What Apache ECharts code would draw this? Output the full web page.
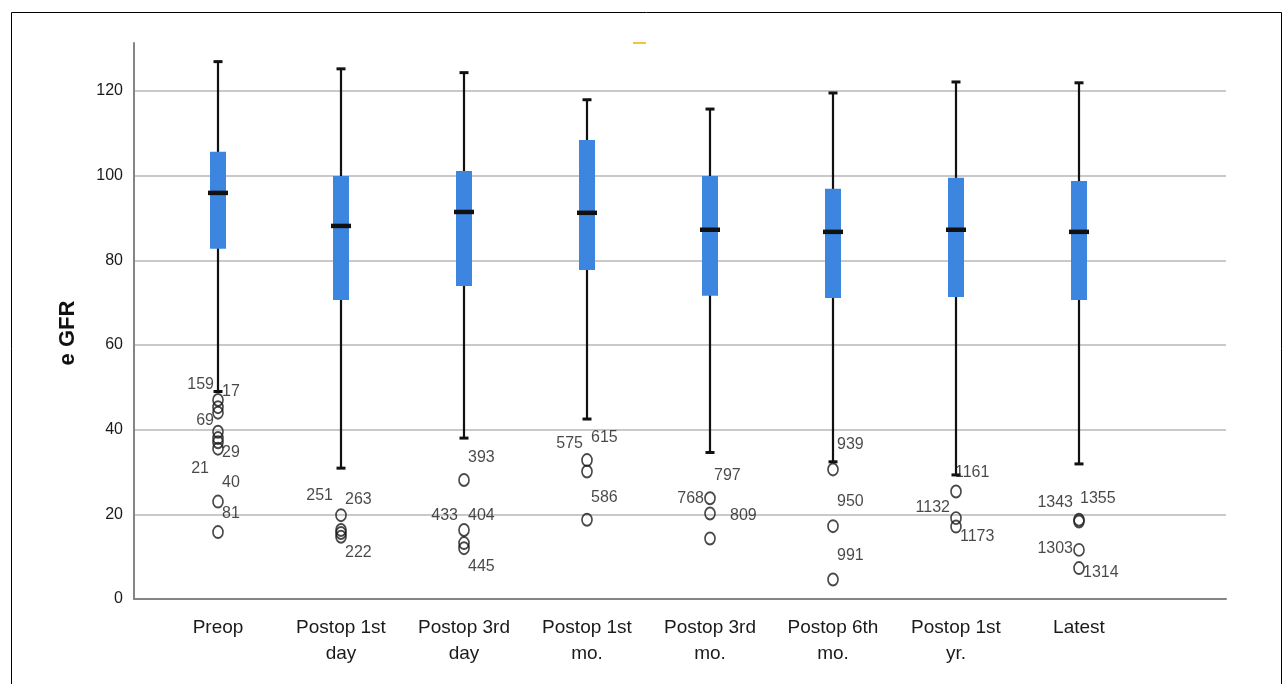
<!DOCTYPE html>
<html><head><meta charset="utf-8">
<script src="https://cdn.jsdelivr.net/npm/echarts@6/dist/echarts.min.js"></script>
<style>html,body{margin:0;padding:0;background:#fff}#c{width:1284px;height:684px}</style>
</head><body><div id="c"></div>
<script>
const categories = ['Preop','Postop 1st\nday','Postop 3rd\nday','Postop 1st\nmo.','Postop 3rd\nmo.','Postop 6th\nmo.','Postop 1st\nyr.','Latest'];
const whiskerLow  = [49.0, 30.9, 38.0, 42.5, 34.6, 32.4, 29.3, 31.9];
const q1          = [82.7, 70.6, 73.9, 77.7, 71.6, 71.1, 71.3, 70.6];
const median      = [95.9, 88.1, 91.4, 91.2, 87.2, 86.7, 87.2, 86.7];
const q3          = [105.6, 99.9, 101.1, 108.4, 99.9, 96.9, 99.5, 98.7];
const whiskerHigh = [126.9, 125.2, 124.3, 117.9, 115.7, 119.5, 122.1, 121.9];
const outlierValues = [
  [47.0, 45.3, 44.0, 39.5, 38.0, 37.0, 35.5, 23.0, 15.8],
  [19.8, 16.3, 15.6, 14.7],
  [28.1, 16.3, 13.2, 12.0],
  [32.8, 30.1, 18.7],
  [23.8, 20.2, 14.3],
  [30.6, 17.2, 4.6],
  [25.4, 19.1, 17.1],
  [18.7, 18.3, 11.6, 7.3]
];
const outlierLabels = [
  [0, 50.6, '159', 'left'], [0, 49.0, '17', 'right'], [0, 42.1, '69', 'left'], [0, 34.6, '29', 'right'],
  [0, 30.7, '21', 'left'], [0, 27.6, '40', 'right'], [0, 20.2, '81', 'right'],
  [1, 24.4, '251', 'left'], [1, 23.4, '263', 'right'], [1, 11.0, '222', 'right'],
  [2, 33.5, '393', 'right'], [2, 19.8, '433', 'left'], [2, 19.8, '404', 'right'], [2, 7.6, '445', 'right'],
  [3, 36.8, '575', 'left'], [3, 38.2, '615', 'right'], [3, 24.0, '586', 'right'],
  [4, 29.1, '797', 'right'], [4, 23.8, '768', 'left'], [4, 19.7, '809', 'right'],
  [5, 36.4, '939', 'right'], [5, 23.0, '950', 'right'], [5, 10.2, '991', 'right'],
  [6, 29.9, '1161', 'right'], [6, 21.7, '1132', 'left'], [6, 14.7, '1173', 'right'],
  [7, 22.8, '1343', 'left'], [7, 23.6, '1355', 'right'], [7, 11.8, '1303', 'left'], [7, 6.3, '1314', 'right']
];
const yTicks = [0, 20, 40, 60, 80, 100, 120];

// style-only overrides of label distance
const labelDistance = { '809': 20, '1161': -1, '1355': 1, '21': 9, '251': 8, '433': 6, '768': 6, '1132': 6, '1303': 6, '1343': 6 };

const FONT = '"Liberation Sans", Arial, sans-serif';
const AXIS_MAX = 131.3;

const boxData = categories.map((c, i) => [i, whiskerLow[i], q1[i], median[i], q3[i], whiskerHigh[i]]);
const outData = [];
outlierValues.forEach((arr, i) => arr.forEach(v => outData.push([i, v])));
const labelData = outlierLabels.map(l => ({
  value: [l[0], l[1]],
  label: { position: l[3], distance: labelDistance[l[2]] !== undefined ? labelDistance[l[2]] : 4, formatter: l[2] }
}));

function renderBox(params, api) {
  const x = api.value(0);
  const cx = api.coord([x, 0])[0];
  const yLow = api.coord([x, api.value(1)])[1];
  const yQ1 = api.coord([x, api.value(2)])[1];
  const yMed = api.coord([x, api.value(3)])[1];
  const yQ3 = api.coord([x, api.value(4)])[1];
  const yHigh = api.coord([x, api.value(5)])[1];
  const black = '#111';
  return {
    type: 'group',
    children: [
      { type: 'line', shape: { x1: cx, y1: yHigh, x2: cx, y2: yLow }, style: { stroke: black, lineWidth: 2.2 } },
      { type: 'line', shape: { x1: cx - 4.5, y1: yHigh, x2: cx + 4.5, y2: yHigh }, style: { stroke: black, lineWidth: 3 } },
      { type: 'line', shape: { x1: cx - 4.5, y1: yLow, x2: cx + 4.5, y2: yLow }, style: { stroke: black, lineWidth: 3 } },
      { type: 'rect', shape: { x: cx - 8, y: yQ3, width: 16, height: yQ1 - yQ3 }, style: { fill: '#3d86e0' } },
      { type: 'line', shape: { x1: cx - 10, y1: yMed, x2: cx + 10, y2: yMed }, style: { stroke: black, lineWidth: 4.5 } }
    ]
  };
}

const chart = echarts.init(document.getElementById('c'), null, { renderer: 'canvas' });
chart.setOption({
  animation: false,
  backgroundColor: '#fff',
  textStyle: { fontFamily: FONT },
  grid: [
    { left: 134, right: 58, top: 43, bottom: 85 },
    { left: 134, right: 58, top: 91, bottom: 85 },
    { left: 156.5, right: 143.5, top: 43, bottom: 85 }
  ],
  xAxis: [
    { gridIndex: 0, type: 'value', min: 0, max: 1, axisLine: { show: true, lineStyle: { color: '#858585', width: 2 } },
      axisTick: { show: false }, axisLabel: { show: false }, splitLine: { show: false }, z: 5 },
    { gridIndex: 1, type: 'value', min: 0, max: 1, show: false },
    { gridIndex: 2, type: 'category', data: categories, boundaryGap: true,
      axisLine: { show: false }, axisTick: { show: false }, splitLine: { show: false },
      axisLabel: { interval: 0, fontSize: 19, lineHeight: 26, margin: 16, color: '#1a1a1a', fontFamily: FONT } }
  ],
  yAxis: [
    { gridIndex: 0, type: 'value', min: 0, max: AXIS_MAX, axisLine: { show: true, lineStyle: { color: '#858585', width: 2 } },
      axisTick: { show: false }, axisLabel: { show: false }, splitLine: { show: false }, z: 5 },
    { gridIndex: 1, type: 'value', min: yTicks[0], max: yTicks[yTicks.length - 1], interval: 20,
      axisLine: { show: false }, axisTick: { show: false },
      axisLabel: { fontSize: 16, color: '#1a1a1a', margin: 11, fontFamily: FONT },
      splitLine: { show: true, showMinLine: false, lineStyle: { color: '#c9c9c9', width: 2 } } },
    { gridIndex: 2, type: 'value', min: 0, max: AXIS_MAX, show: false }
  ],
  series: [
    { type: 'custom', xAxisIndex: 2, yAxisIndex: 2, data: boxData, renderItem: renderBox, z: 3 },
    { type: 'scatter', xAxisIndex: 2, yAxisIndex: 2, data: outData, symbol: 'circle', symbolSize: [10, 12],
      itemStyle: { color: 'rgba(255,255,255,0)', borderColor: '#1a1a1a', borderWidth: 1.8 }, z: 4 },
    { type: 'scatter', xAxisIndex: 2, yAxisIndex: 2, data: labelData, symbolSize: 0, silent: true,
      label: { show: true, fontSize: 16, color: '#1a1a1a', fontFamily: FONT }, z: 5 }
  ],
  graphic: [
    { type: 'rect', shape: { x: 11.5, y: 12.5, width: 1270, height: 720 }, style: { fill: null, stroke: '#000', lineWidth: 1 }, silent: true },
    { type: 'line', shape: { x1: 633, y1: 43, x2: 646, y2: 43 }, style: { stroke: '#f5c342', lineWidth: 2 }, silent: true },
    { type: 'text', x: 68, y: 333, rotation: Math.PI / 2,
      style: { text: 'e GFR', fontSize: 22, fontWeight: 'bold', fill: '#111', font: 'bold 22px ' + FONT, textAlign: 'center', textVerticalAlign: 'middle' } }
  ]
});
</script>
</body></html>
